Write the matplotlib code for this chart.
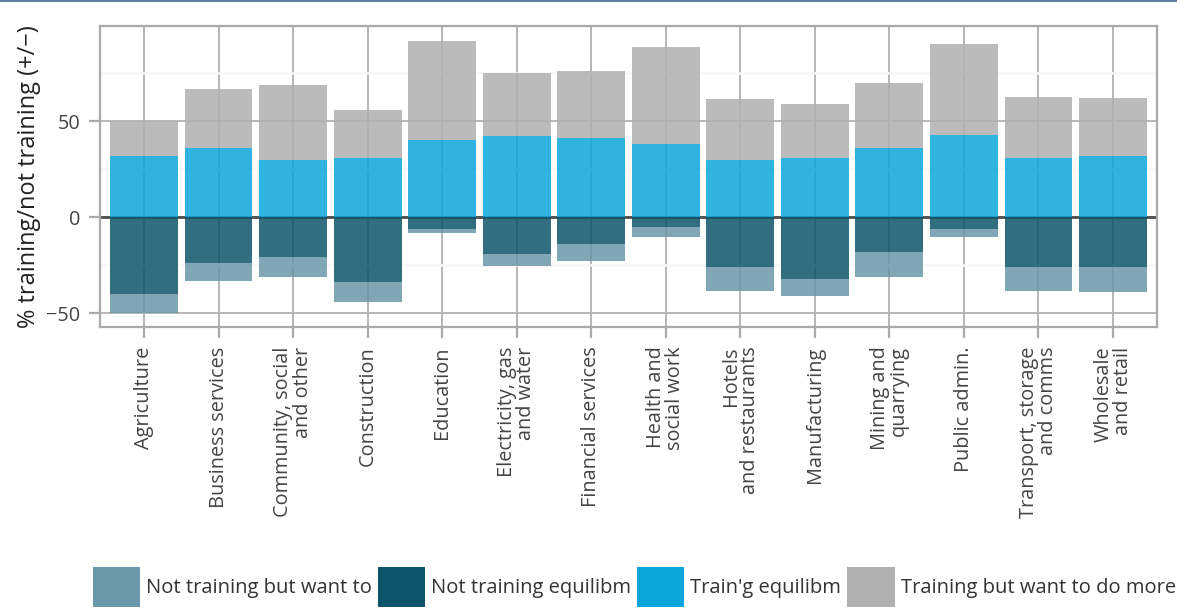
import matplotlib
matplotlib.use("Agg")
import matplotlib.pyplot as plt
from matplotlib.patches import Patch
from matplotlib.lines import Line2D
import numpy as np

plt.rcParams['font.family'] = ['Open Sans', 'DejaVu Sans']

categories = ["Agriculture", "Business services", "Community, social\nand other",
              "Construction", "Education", "Electricity, gas\nand water",
              "Financial services", "Health and\nsocial work", "Hotels\nand restaurants",
              "Manufacturing", "Mining and\nquarrying", "Public admin.",
              "Transport, storage\nand comms", "Wholesale\nand retail"]

train_equilibm = [32, 36, 30, 31, 40, 42, 41, 38, 30, 31, 36, 43, 31, 32]
train_want_more = [18, 30.5, 38.7, 24.8, 51.9, 32.9, 34.9, 50.8, 31.5, 27.9, 33.8, 46.9, 31.5, 30]
not_train_equilibm = [40, 24, 21, 34, 6, 19, 14, 5, 26, 32, 18, 6, 26, 26]
not_train_want = [10, 9.2, 10.3, 10.4, 2.1, 6.2, 9.1, 5.1, 12.2, 9.1, 13.4, 4.1, 12.2, 13.2]

series_names = ["Not training but want to", "Not training equilibm",
                "Train'g equilibm", "Training but want to do more"]
colors = ["#6b98ab", "#0e5569", "#0ca6da", "#b0b0b0"]
ALPHA = 0.85

fig = plt.figure(figsize=(11.77, 6.09), dpi=100)
ax = fig.add_axes([100/1177, 1 - 327/609, (1157 - 100)/1177, (327 - 26)/609])

x = np.arange(len(categories))
w = 0.91
teq = np.array(train_equilibm)
tmore = np.array(train_want_more)
neq = np.array(not_train_equilibm)
nwant = np.array(not_train_want)

ax.bar(x, -neq, width=w, color=colors[1], alpha=ALPHA, zorder=3, linewidth=0)
ax.bar(x, -nwant, bottom=-neq, width=w, color=colors[0], alpha=ALPHA, zorder=3, linewidth=0)
ax.bar(x, teq, width=w, color=colors[2], alpha=ALPHA, zorder=3, linewidth=0)
ax.bar(x, tmore, bottom=teq, width=w, color=colors[3], alpha=ALPHA, zorder=3, linewidth=0)

ax.axhline(0, color="#4d4d4d", lw=2.0, zorder=2)

ax.set_xlim(-0.59, len(categories) - 1 + 0.59)
ax.set_ylim(-57.2, 99.5)

ax.set_yticks([-50, 0, 50])
ax.set_yticklabels(["\u221250", "0", "50"])
ax.set_yticks([-25, 25, 75], minor=True)
ax.set_xticks(x)
ax.set_xticklabels(categories, rotation=90, ha='center', va='top',
                   multialignment='right', linespacing=0.95)

ax.grid(True, which='major', axis='both', color="#b5b5b5", lw=1.4, zorder=1)
ax.grid(True, which='minor', axis='y', color="#f7f7f7", lw=1.8, zorder=0)
ax.set_axisbelow(True)

for s in ax.spines.values():
    s.set_color("#aaaaaa")
    s.set_linewidth(1.6)

ax.tick_params(axis='both', which='major', color="#aaaaaa", width=1.6, length=8,
               labelsize=14.3, labelcolor="#444444", pad=6)
ax.tick_params(axis='y', which='minor', length=0)

ax.set_ylabel("% training/not training (+/\u2212)", fontsize=17, color="#222222", labelpad=4)

handles = [Patch(facecolor=c, edgecolor='none') for c in colors]
leg = fig.legend(handles, series_names, loc='lower left', bbox_to_anchor=(93/1177, 2/609),
                 ncol=4, frameon=False, fontsize=14.5, handlelength=2.34, handleheight=2.68,
                 handletextpad=0.3, columnspacing=0.3, borderpad=0.0, borderaxespad=0.0)
for t in leg.get_texts():
    t.set_color("#333333")

fig.add_artist(Line2D([0, 1], [1 - 0.5/609, 1 - 0.5/609], transform=fig.transFigure,
                      color="#5b7fa0", lw=1.5))

fig.savefig("out.png", dpi=100)
